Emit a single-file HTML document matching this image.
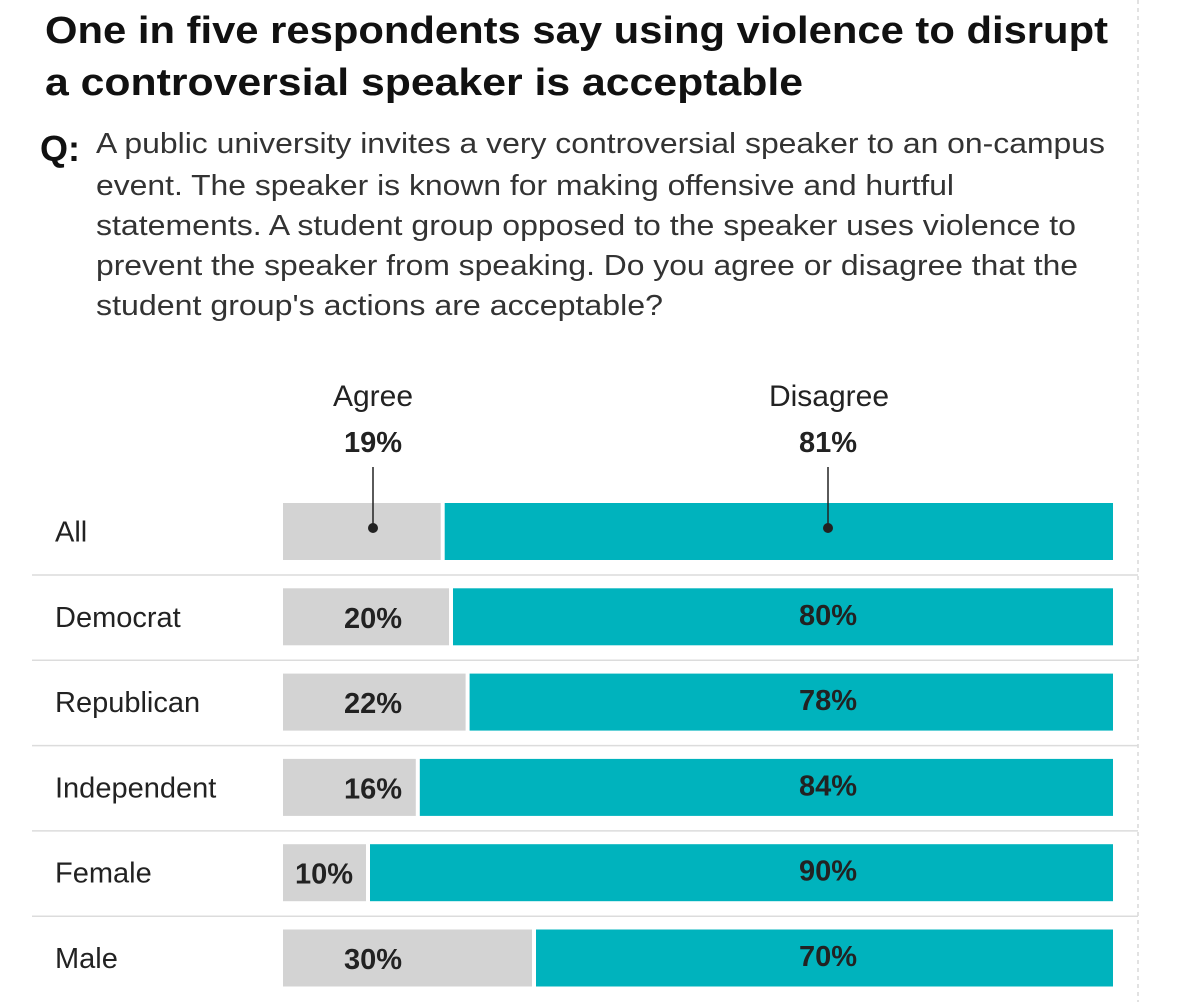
<!DOCTYPE html>
<html><head><meta charset="utf-8"><style>
html,body{margin:0;padding:0;background:#fff;}
svg{display:block;font-family:"Liberation Sans",sans-serif;}
</style></head><body>
<svg width="1200" height="1002" viewBox="0 0 1200 1002">
<line x1="1138" y1="0" x2="1138" y2="1002" stroke="#d8d8d8" stroke-width="1.5" stroke-dasharray="4,4"/>
<g font-weight="bold" font-size="38" fill="#111">
<text x="45" y="43" textLength="1063" lengthAdjust="spacingAndGlyphs">One in five respondents say using violence to disrupt</text>
<text x="45" y="95" textLength="758" lengthAdjust="spacingAndGlyphs">a controversial speaker is acceptable</text>
</g>
<text x="40" y="161" font-weight="bold" font-size="36" fill="#111">Q:</text>
<g font-size="29" fill="#333">
<text x="96" y="153" textLength="1009" lengthAdjust="spacingAndGlyphs">A public university invites a very controversial speaker to an on-campus</text>
<text x="96" y="195" textLength="858" lengthAdjust="spacingAndGlyphs">event. The speaker is known for making offensive and hurtful</text>
<text x="96" y="235" textLength="980" lengthAdjust="spacingAndGlyphs">statements. A student group opposed to the speaker uses violence to</text>
<text x="96" y="275" textLength="982" lengthAdjust="spacingAndGlyphs">prevent the speaker from speaking. Do you agree or disagree that the</text>
<text x="96" y="315" textLength="567" lengthAdjust="spacingAndGlyphs">student group's actions are acceptable?</text>
</g>
<g id="bars"></g>
</svg>
<script>
const categories=["All","Democrat","Republican","Independent","Female","Male"];
const agree=[19,20,22,16,10,30];
const disagree=[81,80,78,84,90,70];
const svg=document.getElementById('bars');
const NS="http://www.w3.org/2000/svg";
const x0=283,x1=1113,rowTop=503,rowStep=85.3,barH=57;
function xs(v){return x0+(x1-x0)*v/100;}
function mk(tag,attrs,parent){const e=document.createElementNS(NS,tag);for(const k in attrs)e.setAttribute(k,attrs[k]);(parent||svg).appendChild(e);return e;}
let t=mk('text',{x:373,y:406,'text-anchor':'middle','font-size':30,fill:'#222'});t.textContent="Agree";


t=mk('text',{x:829,y:406,'text-anchor':'middle','font-size':30,fill:'#222'});t.textContent="Disagree";


categories.forEach((c,i)=>{
  const y=rowTop+i*rowStep, cy=y+barH/2;
  const g=mk('g',{});
  
  
  const lab=mk('text',{x:55,y:cy+10,'font-size':29,fill:'#222'},g);lab.textContent=c;
  
  
  const ge=xs(agree[i]);
  const r1=mk('rect',{x:x0,y:y,width:ge-x0,height:barH,fill:'#d3d3d3'},g);
  
  
  const r2=mk('rect',{x:ge+4,y:y,width:x1-ge-4,height:barH,fill:'#00b3bd'},g);
  
  
  if(i<categories.length-1){
    const ln=mk('line',{x1:32,x2:1138,y1:y+barH+15,y2:y+barH+15,stroke:'#dcdcdc','stroke-width':1.5},g);
    
    
  }
  if(i===0){
    [[373,agree[i]],[828,disagree[i]]].forEach(([lx,v])=>{
      const vt=mk('text',{x:lx,y:452,'text-anchor':'middle','font-size':29,'font-weight':'bold',fill:'#222'},g);vt.textContent=v+"%";
      
      
      const l=mk('line',{x1:lx,x2:lx,y1:467,y2:527,stroke:'#222','stroke-width':1.5},g);
      
      
      const d=mk('circle',{cx:lx,cy:528,r:5,fill:'#222'},g);
      
      
    });
  } else {
    const ax=Math.min(373, ge-42);
    const at=mk('text',{x:ax,y:cy+11,'text-anchor':'middle','font-size':29,'font-weight':'bold',fill:'#222'},g);at.textContent=agree[i]+"%";
    
    
    const dt=mk('text',{x:828,y:cy+8,'text-anchor':'middle','font-size':29,'font-weight':'bold',fill:'#222'},g);dt.textContent=disagree[i]+"%";
    
    
  }
});
</script>
</body></html>
